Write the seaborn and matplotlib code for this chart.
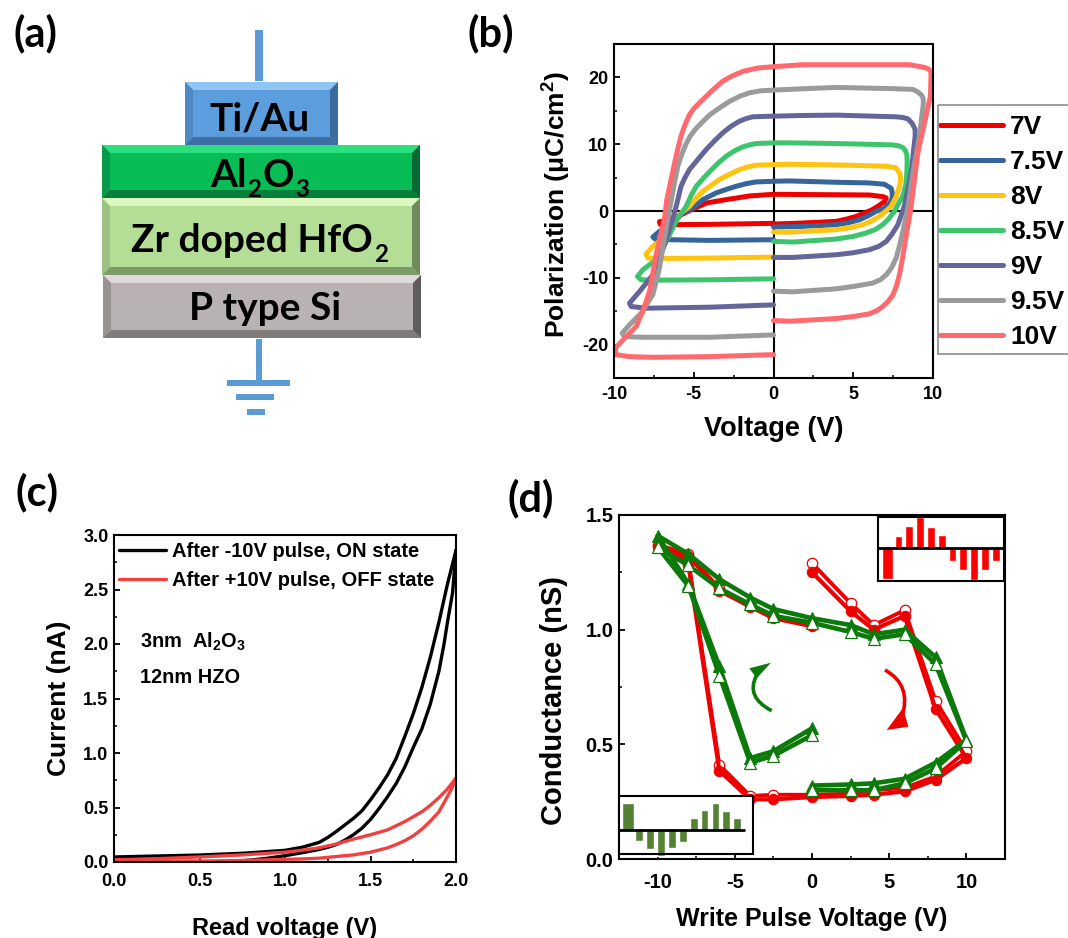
import matplotlib
matplotlib.use('Agg')
import matplotlib.pyplot as plt
import seaborn as sns
from matplotlib.patches import Polygon, Rectangle, PathPatch
from matplotlib.path import Path
from matplotlib.ticker import MultipleLocator

# panel b, hysteresis loops
v_7v = [0, 1.84, 3.93, 4.6, 5.2, 5.7, 6.2, 6.6, 6.96, 7.07, 6.85, 6.0, 2.9, 0, -1.5, -2.97, -4.2, -5.05, -6.0, -6.7, -7.15, -7.1, -6.5, -4, 0]
p_7v = [-1.95, -1.8, -1.55, -1.2, -0.8, -0.3, 0.2, 0.8, 1.4, 1.95, 2.15, 2.4, 2.45, 2.5, 2.25, 1.7, 1.2, 0.3, -0.8, -1.4, -1.6, -2.0, -2.05, -2.0, -1.85]
v_75v = [0, 1.84, 3.93, 4.7, 5.4, 5.95, 6.43, 6.96, 7.3, 7.44, 7.45, 7.38, 6.96, 6.0, 3.93, 1.0, 0, -1.1, -1.7, -2.34, -3.0, -3.6, -4.43, -5.05, -5.7, -6.3, -7.15, -7.56, -7.36, -6.5, -4.0, 0]
p_75v = [-2.4, -2.3, -2.05, -1.75, -1.3, -0.7, -0.05, 0.4, 1.2, 1.9, 2.7, 3.4, 4.0, 4.2, 4.3, 4.5, 4.45, 4.35, 4.1, 3.7, 3.2, 2.7, 1.7, 0.45, -0.3, -1.8, -3.05, -3.9, -4.3, -4.3, -4.4, -4.3]
v_8v = [0, 1.2, 3.93, 4.8, 5.6, 6.15, 6.65, 7.05, 7.38, 7.7, 7.9, 7.97, 7.95, 7.69, 7.07, 3.93, 1.0, 0, -1.1, -1.6, -2.13, -2.75, -3.4, -3.9, -4.43, -4.85, -5.27, -5.8, -6.3, -6.93, -7.56, -8.0, -7.87, -6.93, -4.0, 0]
p_8v = [-3.15, -3.15, -2.8, -2.5, -2.05, -1.5, -0.8, 0, 0.7, 2.2, 3.7, 4.6, 5.45, 6.45, 6.7, 6.9, 7.0, 6.95, 6.85, 6.6, 6.2, 5.5, 4.7, 3.85, 2.95, 1.9, 0.7, -0.3, -2.05, -4.05, -5.3, -6.45, -7.05, -7.1, -7.05, -6.9]
v_85v = [0, 1.2, 3.93, 5.0, 5.8, 6.4, 6.85, 7.25, 7.58, 7.8, 8.1, 8.3, 8.36, 8.38, 8.36, 8.25, 8.11, 7.85, 7.48, 3.93, 1.0, 0, -1.1, -1.5, -1.92, -2.45, -2.97, -3.5, -4.0, -4.4, -4.84, -5.15, -5.47, -6.0, -6.62, -7.36, -8.19, -8.53, -8.3, -7.36, -4.0, 0]
p_85v = [-4.55, -4.65, -4.2, -3.8, -3.3, -2.75, -2.05, -1.1, -0.05, 0.95, 2.2, 4.0, 5.7, 7.5, 8.5, 9.1, 9.5, 9.75, 9.9, 10.1, 10.2, 10.2, 10.1, 9.9, 9.6, 9.0, 8.2, 7.1, 5.9, 4.9, 3.7, 2.4, 0.7, -1.05, -4.05, -7.3, -8.8, -9.8, -10.3, -10.35, -10.3, -10.15]
v_9v = [0, 1.2, 3.93, 5.0, 6.0, 6.6, 7.07, 7.45, 7.8, 8.2, 8.63, 8.88, 8.88, 8.7, 8.42, 8.1, 7.69, 3.93, 1.84, 0, -1.3, -1.7, -2.13, -2.65, -3.18, -3.7, -4.22, -4.75, -5.27, -5.55, -5.8, -6.1, -6.3, -6.83, -7.56, -8.4, -9.03, -8.92, -7.98, -4.0, 0]
p_9v = [-6.95, -6.95, -6.55, -6.25, -5.8, -5.3, -4.55, -3.4, -2.05, 0.7, 5.7, 11.2, 12.2, 13.1, 13.8, 14.0, 14.1, 14.35, 14.3, 14.2, 14.1, 13.85, 13.45, 12.7, 11.7, 10.5, 9.2, 7.7, 6.2, 5.0, 3.7, 0.7, -1.05, -5.05, -9.55, -12.05, -13.8, -14.3, -14.55, -14.4, -14.05]
v_95v = [0, 1.2, 3.93, 5.0, 6.2, 6.7, 7.07, 7.4, 7.69, 7.9, 8.11, 8.42, 8.74, 9.15, 9.4, 9.38, 9.26, 9.0, 8.73, 7.69, 3.93, 1.84, 0, -0.8, -1.5, -2.1, -2.76, -3.4, -4.0, -4.84, -5.2, -5.47, -5.75, -6.0, -6.2, -6.4, -6.62, -7.15, -7.56, -8.3, -9.03, -9.49, -9.34, -8.2, -4.0, 0]
p_95v = [-12.0, -12.1, -11.65, -11.3, -10.8, -10.3, -9.55, -8.5, -7.05, -5.2, -3.05, 0.45, 5.7, 11.2, 16.2, 16.9, 17.4, 17.9, 18.2, 18.3, 18.5, 18.3, 18.1, 18.0, 17.7, 17.2, 16.4, 15.4, 14.4, 12.4, 11.3, 10.1, 8.5, 6.7, 4.3, 1.7, -1.05, -8.55, -12.5, -15.3, -17.05, -18.3, -18.8, -18.9, -18.9, -18.55]
v_10v = [0, 1.0, 3.93, 5.0, 6.0, 6.5, 6.85, 7.2, 7.48, 7.7, 7.9, 8.1, 8.3, 8.63, 9.05, 9.47, 9.84, 9.88, 9.75, 9.47, 8.53, 4.56, 1.84, 0, -1.0, -1.92, -2.6, -3.2, -3.9, -4.64, -5.0, -5.27, -5.55, -5.8, -6.0, -6.2, -6.45, -6.69, -6.83, -7.36, -7.77, -8.19, -8.61, -9.24, -9.9, -9.9, -9.03, -7.56, -4.0, 0]
p_10v = [-16.4, -16.5, -16.1, -15.8, -15.4, -14.9, -14.3, -13.5, -12.6, -11.3, -9.5, -6.9, -4.05, 0.7, 8.7, 13.2, 17.2, 20.7, 21.2, 21.5, 21.9, 21.9, 21.9, 21.6, 21.4, 20.9, 20.2, 19.4, 17.9, 16.2, 15.3, 14.4, 12.9, 11.2, 9.3, 7.2, 4.4, 1.7, -1.05, -6.55, -12.05, -15.0, -17.3, -18.8, -20.5, -21.5, -21.8, -21.9, -21.8, -21.5]
loop_labels = ['7V', '7.5V', '8V', '8.5V', '9V', '9.5V', '10V']
loop_colors = ['#EE0000', '#35659B', '#FFC312', '#3EC46D', '#63659B', '#9B9B9B', '#FF6A6F']

# panel c, read curves
v_on_up = [0, 0.25, 0.5, 0.75, 1.0, 1.1, 1.2, 1.25, 1.3, 1.35, 1.4, 1.45, 1.5, 1.55, 1.6, 1.65, 1.7, 1.75, 1.8, 1.85, 1.9, 1.95, 2.0]
i_on_up = [0.046, 0.055, 0.064, 0.08, 0.107, 0.135, 0.18, 0.225, 0.28, 0.34, 0.40, 0.47, 0.57, 0.68, 0.80, 0.95, 1.15, 1.36, 1.60, 1.88, 2.2, 2.55, 2.86]
v_on_down = [2.0, 1.98, 1.95, 1.93, 1.9, 1.85, 1.8, 1.75, 1.7, 1.65, 1.6, 1.55, 1.5, 1.45, 1.4, 1.35, 1.3, 1.25, 1.2, 1.1, 1.0, 0.9, 0.8, 0.7, 0.6, 0.5]
i_on_down = [2.86, 2.47, 2.2, 2.0, 1.75, 1.45, 1.22, 1.05, 0.87, 0.72, 0.6, 0.49, 0.39, 0.31, 0.25, 0.2, 0.16, 0.135, 0.115, 0.085, 0.058, 0.035, 0.018, 0.006, 0.002, 0.0]
v_off_up = [0, 0.25, 0.5, 0.75, 1.0, 1.1, 1.2, 1.3, 1.4, 1.5, 1.6, 1.7, 1.8, 1.85, 1.9, 1.95, 2.0]
i_off_up = [0.02, 0.03, 0.046, 0.065, 0.09, 0.108, 0.13, 0.165, 0.21, 0.25, 0.295, 0.37, 0.46, 0.52, 0.59, 0.67, 0.77]
v_off_down = [2.0, 1.98, 1.95, 1.9, 1.85, 1.8, 1.75, 1.7, 1.65, 1.6, 1.5, 1.4, 1.3, 1.2, 1.1, 0.9, 0.7, 0.31, 0]
i_off_down = [0.77, 0.69, 0.60, 0.46, 0.375, 0.30, 0.24, 0.195, 0.16, 0.13, 0.09, 0.065, 0.05, 0.035, 0.028, 0.02, 0.012, 0.006, 0.006]

# panel d, conductance loops
v_red = [0, 2.5, 4, 6, 8, 10, 8, 6, 4, 2.5, 0, -2.5, -4, -6, -8, -10, -8, -6, -4, -2.5, 0]
g_red_fill = [1.25, 1.08, 1.0, 1.06, 0.655, 0.44, 0.345, 0.295, 0.28, 0.275, 0.27, 0.26, 0.26, 0.385, 1.28, 1.36, 1.32, 1.17, 1.10, 1.05, 1.015]
g_red_open = [1.29, 1.115, 1.02, 1.085, 0.69, 0.47, 0.36, 0.31, 0.30, 0.285, 0.28, 0.28, 0.275, 0.41, 1.30, 1.37, 1.33, 1.18, 1.11, 1.06, 1.03]
v_green = [0, -2.5, -4, -6, -8, -10, -8, -6, -4, -2.5, 0, 2.5, 4, 6, 8, 10, 8, 6, 4, 2.5, 0]
g_green_fill = [0.57, 0.47, 0.44, 0.84, 1.2, 1.41, 1.33, 1.22, 1.14, 1.09, 1.05, 1.02, 0.98, 1.0, 0.88, 0.52, 0.42, 0.35, 0.33, 0.325, 0.32]
g_green_open = [0.54, 0.45, 0.42, 0.80, 1.19, 1.36, 1.28, 1.18, 1.11, 1.06, 1.03, 0.99, 0.96, 0.98, 0.85, 0.515, 0.395, 0.33, 0.30, 0.30, 0.30]

# insets of panel d (arbitrary units)
inset_red = [-92, 37, 65, 93, 62, 40, -40, -67, -95, -66, -40]
inset_green = [78, -34, -57, -79, -55, -36, 34, 57, 80, 55, 33]

W, H = 1068, 938

sns.set_theme(style='ticks', rc={
    'axes.linewidth': 1.5, 'xtick.direction': 'in', 'ytick.direction': 'in',
    'xtick.major.size': 4.5, 'ytick.major.size': 4.5, 'xtick.minor.size': 2.5, 'ytick.minor.size': 2.5,
    'xtick.major.width': 1.3, 'ytick.major.width': 1.3, 'xtick.minor.width': 1.1, 'ytick.minor.width': 1.1,
    'axes.edgecolor': 'black', 'xtick.color': 'black', 'ytick.color': 'black',
    'text.color': 'black', 'axes.labelcolor': 'black', 'axes.unicode_minus': False,
})
plt.rcParams['font.family'] = ['Liberation Sans', 'DejaVu Sans']
plt.rcParams['font.weight'] = 'bold'
plt.rcParams['mathtext.fontset'] = 'custom'
plt.rcParams['mathtext.bf'] = 'Liberation Sans:bold'
plt.rcParams['mathtext.rm'] = 'Liberation Sans:bold'
plt.rcParams['mathtext.default'] = 'bf'

fig = plt.figure(figsize=(W / 100, H / 100), dpi=100, facecolor='white')


def px_axes(left, top, right, bottom, **kw):
    return fig.add_axes([left / W, 1 - bottom / H, (right - left) / W, (bottom - top) / H], **kw)


def style_ticks(ax, xmaj, xmin, ymaj, ymin, size=13, xpad=4, ypad=4):
    ax.xaxis.set_major_locator(MultipleLocator(xmaj))
    ax.xaxis.set_minor_locator(MultipleLocator(xmin))
    ax.yaxis.set_major_locator(MultipleLocator(ymaj))
    ax.yaxis.set_minor_locator(MultipleLocator(ymin))
    ax.tick_params(axis='x', labelsize=size, pad=xpad)
    ax.tick_params(axis='y', labelsize=size, pad=ypad)


# overlay in pixel coordinates for the schematic, letters and arrows
over = fig.add_axes([0, 0, 1, 1], zorder=10)
over.set_xlim(0, W)
over.set_ylim(H, 0)
over.axis('off')
over.patch.set_alpha(0)


def bevel_box(x0, y0, x1, y1, face, top, bottom, left, right, b=8):
    over.add_patch(Rectangle((x0, y0), x1 - x0, y1 - y0, color=face, lw=0))
    over.add_patch(Polygon([(x0, y0), (x1, y0), (x1 - b, y0 + b), (x0 + b, y0 + b)], color=top, lw=0))
    over.add_patch(Polygon([(x0, y1), (x1, y1), (x1 - b, y1 - b), (x0 + b, y1 - b)], color=bottom, lw=0))
    over.add_patch(Polygon([(x0, y0), (x0 + b, y0 + b), (x0 + b, y1 - b), (x0, y1)], color=left, lw=0))
    over.add_patch(Polygon([(x1, y0), (x1 - b, y0 + b), (x1 - b, y1 - b), (x1, y1)], color=right, lw=0))


def run_text(x, y, runs, size=28):
    # text with subscripts, x is the centre of the whole string
    rend = fig.canvas.get_renderer()
    items = []
    total = 0
    for s, is_sub in runs:
        t = over.text(0, y + (10 if is_sub else 0), s, fontsize=size * (0.62 if is_sub else 1), family='Lato',
                      fontweight='bold', color='black', va='baseline', ha='left')
        w = t.get_window_extent(rend).width + 1
        items.append((t, w))
        total += w
    cur = x - total / 2
    for t, w in items:
        t.set_x(cur)
        cur += w


blue = '#5B9BD5'
over.add_patch(Rectangle((255, 30), 8, 51, color=blue, lw=0))
over.add_patch(Rectangle((256, 339), 6, 41, color=blue, lw=0))
over.add_patch(Rectangle((227, 380), 63, 6, color=blue, lw=0))
over.add_patch(Rectangle((236, 394), 38, 6, color=blue, lw=0))
over.add_patch(Rectangle((247, 409), 18, 6, color=blue, lw=0))
bevel_box(185, 82, 338, 145, '#5C9DDD', '#8EC5F2', '#3D6FA3', '#4F89C4', '#3C6C9C')
bevel_box(102, 145, 420, 198, '#08BC56', '#2DE07F', '#067F3B', '#079A49', '#056B33')
bevel_box(102, 198, 420, 275, '#B4DE96', '#DDF8BD', '#7E9B69', '#9DC083', '#6F8A5B')
bevel_box(103, 275, 421, 338, '#B8B3B2', '#E0DBDA', '#807C7B', '#979392', '#5F5C5C')
run_text(260, 131, [('Ti/Au', False)])
run_text(260, 187, [('Al', False), ('2', True), ('O', False), ('3', True)])
run_text(260, 252, [('Zr doped HfO', False), ('2', True)])
run_text(266, 320, [('P type Si', False)])

for s, x, y in [('(a)', 35, 33), ('(b)', 491, 33), ('(c)', 37, 492), ('(d)', 531, 498)]:
    over.text(x, y, s, fontsize=30, family='Lato', fontweight='bold', color='black', ha='center', va='center')

# panel b
ax_b = px_axes(614, 44, 933, 378)
ax_b.axhline(0, color='black', lw=1.5)
ax_b.axvline(0, color='black', lw=1.5)
loops = [(v_7v, p_7v), (v_75v, p_75v), (v_8v, p_8v), (v_85v, p_85v), (v_9v, p_9v), (v_95v, p_95v), (v_10v, p_10v)]
for (v, p), name, col in zip(loops, loop_labels, loop_colors):
    sns.lineplot(x=v, y=p, sort=False, estimator=None, color=col, lw=3.6, label=name, ax=ax_b,
                 solid_capstyle='round', solid_joinstyle='round')
ax_b.set_xlim(-10, 10)
ax_b.set_ylim(-25, 25)
style_ticks(ax_b, 5, 2.5, 10, 5, xpad=6)
ax_b.set_xlabel('Voltage (V)', fontsize=19.5, fontweight='bold')
ax_b.set_ylabel('Polarization (μC/cm$^{2}$)', fontsize=19, fontweight='bold')
ax_b.xaxis.set_label_coords(0.5, -0.115)
ax_b.yaxis.set_label_coords(-0.13, 0.52)
over.add_patch(Rectangle((938, 105.5), 140, 248.5, fill=False, edgecolor='#8C8C8C', lw=1.2))
ax_b.legend(loc='upper left', bbox_to_anchor=(940 / W, 1 - 115 / H), bbox_transform=fig.transFigure,
            frameon=False, borderaxespad=0, borderpad=0,
            handlelength=2.4, handletextpad=0.25, labelspacing=0.42,
            prop={'size': 19, 'weight': 'bold'})

# panel c
ax_c = px_axes(114, 535, 456, 862)
sns.lineplot(x=v_on_up, y=i_on_up, sort=False, estimator=None, color='black', lw=2.4, ax=ax_c,
             label='After -10V pulse, ON state')
sns.lineplot(x=v_on_down, y=i_on_down, sort=False, estimator=None, color='black', lw=2.4, ax=ax_c)
sns.lineplot(x=v_off_up, y=i_off_up, sort=False, estimator=None, color='#F04040', lw=2.4, ax=ax_c,
             label='After +10V pulse, OFF state')
sns.lineplot(x=v_off_down, y=i_off_down, sort=False, estimator=None, color='#F04040', lw=2.4, ax=ax_c)
ax_c.set_xlim(0, 2)
ax_c.set_ylim(0, 3)
style_ticks(ax_c, 0.5, 0.25, 0.5, 0.25, xpad=8)
ax_c.set_xlabel('Read voltage (V)', fontsize=17, fontweight='bold')
ax_c.set_ylabel('Current (nA)', fontsize=19, fontweight='bold')
ax_c.xaxis.set_label_coords(0.5, -0.167)
ax_c.yaxis.set_label_coords(-0.125, 0.5)
ax_c.legend(loc='upper left', bbox_to_anchor=(119 / W, 1 - 542 / H), bbox_transform=fig.transFigure,
            frameon=False, borderaxespad=0, borderpad=0, handlelength=2.35, handletextpad=0.3, labelspacing=0.5,
            prop={'size': 14.5, 'weight': 'bold'})
ax_c.text(0.15, 1.97, '3nm  Al$_{2}$O$_{3}$', fontsize=14.4, fontweight='bold')
ax_c.text(0.15, 1.64, '12nm HZO', fontsize=14.4, fontweight='bold')

# panel d
ax_d = px_axes(619, 515, 1005, 859)
sns.lineplot(x=v_red, y=g_red_open, sort=False, estimator=None, color='#EE0000', lw=2.8, marker='o', ms=7.5,
             mfc='white', mec='#EE0000', mew=0.9, ax=ax_d)
sns.lineplot(x=v_red, y=g_red_fill, sort=False, estimator=None, color='#EE0000', lw=3.0, marker='o', ms=7.5,
             mfc='#EE0000', mec='#EE0000', ax=ax_d)
sns.lineplot(x=v_green, y=g_green_fill, sort=False, estimator=None, color='#0B7A0B', lw=3.3, marker='^', ms=8.5,
             mfc='#0B7A0B', mec='#0B7A0B', ax=ax_d)
sns.lineplot(x=v_green, y=g_green_open, sort=False, estimator=None, color='#0B7A0B', lw=3.3, marker='^', ms=8.5,
             mfc='white', mec='#0B7A0B', mew=0.9, ax=ax_d)
ax_d.set_xlim(-12.5, 12.5)
ax_d.set_ylim(0, 1.5)
style_ticks(ax_d, 5, 2.5, 0.5, 0.25, size=14.5, xpad=10, ypad=4)
ax_d.set_xlabel('Write Pulse Voltage (V)', fontsize=18, fontweight='bold')
ax_d.set_ylabel('Conductance (nS)', fontsize=21, fontweight='bold')
ax_d.xaxis.set_label_coords(0.5, -0.14)
ax_d.yaxis.set_label_coords(-0.172 + 15 / 386, 0.462)

# insets
ins_r = px_axes(878, 517, 1004, 581, zorder=5)
sns.barplot(x=list(range(len(inset_red))), y=inset_red, color='#FF0000', saturation=1, width=0.72, ax=ins_r, clip_on=False)
ins_r.patches[0].set_x(-0.52)
ins_r.patches[0].set_width(1.04)
ins_r.axhline(0, color='black', lw=2)
ins_r.set_xlim(-0.9, 10.77)
ins_r.set_ylim(-99, 93)
ins_g = px_axes(619, 796, 753, 854, zorder=5)
sns.barplot(x=list(range(len(inset_green))), y=inset_green, color='#548235', saturation=1, width=0.72, ax=ins_g, clip_on=False)
ins_g.patches[0].set_x(-0.54)
ins_g.patches[0].set_width(1.08)
ins_g.hlines(0, -0.82, 10.67, color='black', lw=2)
ins_g.set_xlim(-0.82, 11.43)
ins_g.set_ylim(-73, 100)
for ins in (ins_r, ins_g):
    ins.set_xticks([])
    ins.set_yticks([])
    ins.set_xlabel('')
    ins.set_ylabel('')

# rotation arrows of panel d
green_dark = '#0B7A0B'
arc_g = Path([(771.7, 710.7), (745, 697), (756.7, 675)], [Path.MOVETO, Path.CURVE3, Path.CURVE3])
arc_r = Path([(885, 670), (912, 685), (902, 716.7)], [Path.MOVETO, Path.CURVE3, Path.CURVE3])
over.add_patch(PathPatch(arc_g, fill=False, edgecolor=green_dark, lw=2.6))
over.add_patch(PathPatch(arc_r, fill=False, edgecolor='#EE0000', lw=2.6))
over.add_patch(Polygon([(749.3, 668.3), (771, 662.7), (756.7, 678.3)], color=green_dark, lw=0))
over.add_patch(Polygon([(886.7, 730), (908.3, 726.7), (903, 708)], color='#EE0000', lw=0))

plt.savefig('out.png', dpi=100)
